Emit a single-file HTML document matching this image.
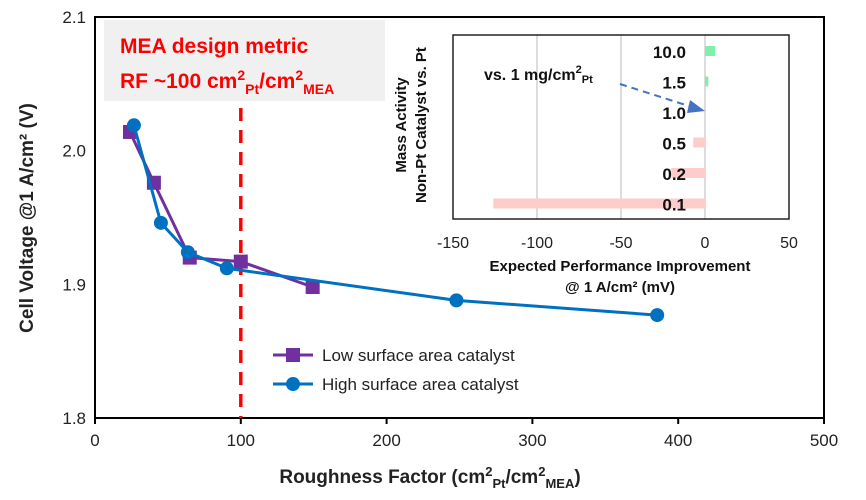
<!DOCTYPE html>
<html><head><meta charset="utf-8"><style>
body{margin:0;background:#fff;}
svg text{font-family:"Liberation Sans",sans-serif;}
</style></head><body>
<svg id="c" width="866" height="495" xmlns="http://www.w3.org/2000/svg">
<g id="main"></g><g id="inset"></g>
</svg>
<script>
const xTicks=[0,100,200,300,400,500];
const yTicks=[1.8,1.9,2.0,2.1];
const lowX=[24,40.4,65,100,149.3];
const lowY=[2.014,1.976,1.920,1.917,1.898];
const highX=[26.7,45.2,63.7,90.4,247.9,385.6];
const highY=[2.019,1.946,1.924,1.912,1.888,1.877];
const insetCats=["10.0","1.5","1.0","0.5","0.2","0.1"];
const insetVals=[6,2,0,-7,-20,-126];
const insetTicks=[-150,-100,-50,0,50];

const NS="http://www.w3.org/2000/svg";
function mk(p,t,a,txt){const e=document.createElementNS(NS,t);for(const k in a)e.setAttribute(k,a[k]);if(txt!==undefined)e.textContent=txt;p.appendChild(e);return e;}
const X=v=>95+v*(824-95)/500;
const Y=v=>418-(v-1.8)*(418-17)/0.3;
const g=document.getElementById('main');

let bx=mk(g,'rect',{x:95,y:17,width:729,height:401,fill:'none',stroke:'#000','stroke-width':2});

xTicks.forEach(v=>{mk(g,'line',{x1:X(v),x2:X(v),y1:418,y2:424,stroke:'#000','stroke-width':2});
 let t=mk(g,'text',{x:X(v),y:446,'text-anchor':'middle','font-size':17,fill:'#222'},v);
 });
yTicks.forEach(v=>{let t=mk(g,'text',{x:86,y:Y(v)+6,'text-anchor':'end','font-size':17,fill:'#222'},v.toFixed(1));
 });

let gb=mk(g,'rect',{x:104,y:20,width:281,height:81,fill:'#f0f0f0'});

let a1=mk(g,'text',{x:120,y:53,'font-size':21,'font-weight':'bold',fill:'#f00'},'MEA design metric');

let a2=mk(g,'text',{x:120,y:88,'font-size':21,'font-weight':'bold',fill:'#f00'});
a2.innerHTML='RF ~100 cm<tspan dy="-8" font-size="14">2</tspan><tspan dy="14" font-size="14">Pt</tspan><tspan dy="-6">/cm</tspan><tspan dy="-8" font-size="14">2</tspan><tspan dy="14" font-size="14">MEA</tspan>';


let rl=mk(g,'line',{x1:X(100),x2:X(100),y1:108,y2:418,stroke:'#f00','stroke-width':3.5,'stroke-dasharray':'13,9'});


function series(xs,ys,col,sq,name){
 let pts=xs.map((x,i)=>X(x)+','+Y(ys[i])).join(' ');
 let l=mk(g,'polyline',{points:pts,fill:'none',stroke:col,'stroke-width':3});
 
 xs.forEach((x,i)=>{let m=sq?mk(g,'rect',{x:X(x)-7,y:Y(ys[i])-7,width:14,height:14,fill:col}):mk(g,'circle',{cx:X(x),cy:Y(ys[i]),r:7,fill:col});
  });
}
series(lowX,lowY,'#7030a0',true,'low-sa');
series(highX,highY,'#0070c0',false,'high-sa');

let lg=mk(g,'g',{});
mk(lg,'line',{x1:273,x2:313,y1:355,y2:355,stroke:'#7030a0','stroke-width':3});
mk(lg,'rect',{x:286,y:348,width:14,height:14,fill:'#7030a0'});
mk(lg,'text',{x:322,y:361,'font-size':17,fill:'#222'},'Low surface area catalyst');
mk(lg,'line',{x1:273,x2:313,y1:384,y2:384,stroke:'#0070c0','stroke-width':3});
mk(lg,'circle',{cx:293,cy:384,r:7,fill:'#0070c0'});
mk(lg,'text',{x:322,y:390,'font-size':17,fill:'#222'},'High surface area catalyst');

let xt=mk(g,'text',{x:430,y:483,'text-anchor':'middle','font-size':19,'font-weight':'bold',fill:'#222'});
xt.innerHTML='Roughness Factor (cm<tspan dy="-7" font-size="13">2</tspan><tspan dy="12" font-size="13">Pt</tspan><tspan dy="-5">/cm</tspan><tspan dy="-7" font-size="13">2</tspan><tspan dy="12" font-size="13">MEA</tspan><tspan dy="-5">)</tspan>';

let yt=mk(g,'text',{x:0,y:0,'text-anchor':'middle','font-size':19,'font-weight':'bold',fill:'#222',transform:'translate(33,218) rotate(-90)'},'Cell Voltage @1 A/cm² (V)');


// inset
const h=document.getElementById('inset');
const IX=v=>453+(v+150)*(789-453)/200;
const IY=i=>51+i*30.5;
insetTicks.forEach(v=>{if(v!==-150&&v!==50){let gl=mk(h,'line',{x1:IX(v),x2:IX(v),y1:35,y2:219,stroke:'#d0d0d0','stroke-width':1.5});}
 let t=mk(h,'text',{x:IX(v),y:248,'text-anchor':'middle','font-size':16,fill:'#222'},v);
 });
insetVals.forEach((v,i)=>{let x0=IX(Math.min(0,v)),w=Math.abs(IX(v)-IX(0));
 let b=mk(h,'rect',{x:x0,y:IY(i)-5,width:w,height:10,fill:v>0?'#7ff0a8':'#ffcccc'});
 });
let ib=mk(h,'rect',{x:453,y:35,width:336,height:184,fill:'none',stroke:'#222','stroke-width':1.5});

insetCats.forEach((c,i)=>{let t=mk(h,'text',{x:686,y:IY(i)+7,'text-anchor':'end','font-size':17,'font-weight':'bold',fill:'#111'},c);
 });
let vs=mk(h,'text',{x:484,y:80,'font-size':16,'font-weight':'bold',fill:'#111'});
vs.innerHTML='vs. 1 mg/cm<tspan dy="-7" font-size="11">2</tspan><tspan dy="10" font-size="11">Pt</tspan>';

let ar=mk(h,'line',{x1:620,y1:84,x2:692,y2:107,stroke:'#4472c4','stroke-width':2,'stroke-dasharray':'7,5'});

let ah=mk(h,'polygon',{points:'705,111 690,100 687,113',fill:'#4472c4'});

let it=mk(h,'text',{x:620,y:271,'text-anchor':'middle','font-size':15,'font-weight':'bold',fill:'#111'},'Expected Performance Improvement');

let it2=mk(h,'text',{x:620,y:292,'text-anchor':'middle','font-size':15,'font-weight':'bold',fill:'#111'},'@ 1 A/cm² (mV)');

let iy1=mk(h,'text',{x:0,y:0,'text-anchor':'middle','font-size':15,'font-weight':'bold',fill:'#111',transform:'translate(406,125) rotate(-90)'},'Mass Activity');

let iy2=mk(h,'text',{x:0,y:0,'text-anchor':'middle','font-size':15,'font-weight':'bold',fill:'#111',transform:'translate(426,125) rotate(-90)'},'Non-Pt Catalyst vs. Pt');

</script>
</body></html>
